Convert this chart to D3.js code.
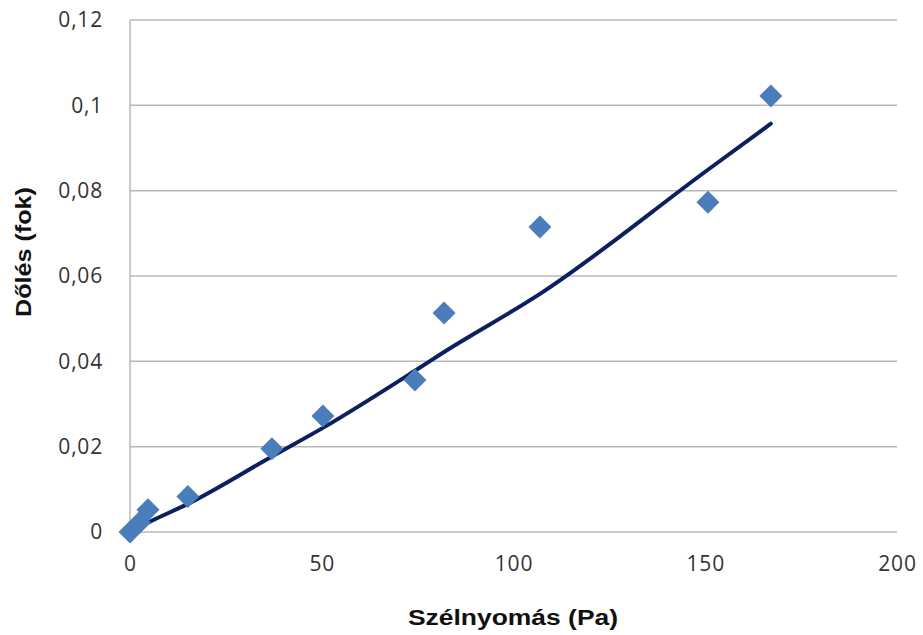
<!DOCTYPE html>
<html>
<head>
<meta charset="utf-8">
<script src="https://cdn.jsdelivr.net/npm/d3@7"></script>
<style>
  body { margin: 0; background: #fff; }
</style>
</head>
<body>
<div id="chart"></div>
<script>
// measured points (Pa, fok)
var pressure = [0, 2.5, 4.7, 15.1, 37, 50.3, 74.3, 81.9, 106.9, 150.7, 167.1];
var tilt     = [0, 0.0022, 0.0052, 0.0083, 0.0195, 0.0272, 0.0356, 0.0513, 0.0715, 0.0773, 0.1022];

// trend line
var trendX = [0, 4.7, 15.1, 37, 50.3, 74.3, 81.9, 106.9, 150.7, 167.1];
var trendY = [0, 0.0022, 0.0066, 0.0177, 0.0244, 0.0378, 0.0422, 0.0558, 0.0849, 0.0957];

var xTicks = [0, 50, 100, 150, 200];
var yTicks = [0, 0.02, 0.04, 0.06, 0.08, 0.1, 0.12];

var width = 923;
var height = 635;

var margin = { top: 20, right: 26, bottom: 103, left: 130 };
var innerW = width - margin.left - margin.right;
var innerH = height - margin.top - margin.bottom;

var svg = d3.select("#chart").append("svg")
  .attr("width", width)
  .attr("height", height);

svg.append("rect")
  .attr("width", "100%")
  .attr("height", "100%")
  .attr("fill", "#ffffff");

var g = svg.append("g")
  .attr("transform", "translate(" + margin.left + "," + margin.top + ")");

var x = d3.scaleLinear().domain([0, 200]).range([0, innerW]);
var y = d3.scaleLinear().domain([0, 0.12]).range([innerH, 0]);

var fmt = function (d) { return String(+d.toFixed(2)).replace(".", ","); };

// horizontal gridlines
g.selectAll(".grid")
  .data(yTicks)
  .enter().append("line")
  .attr("x1", 0)
  .attr("x2", innerW)
  .attr("y1", function (d) { return y(d); })
  .attr("y2", function (d) { return y(d); })
  .attr("stroke", "#b8b8b8")
  .attr("stroke-width", 1.5);

// left axis line
g.append("line")
  .attr("x1", 0).attr("x2", 0)
  .attr("y1", 0).attr("y2", innerH)
  .attr("stroke", "#b8b8b8")
  .attr("stroke-width", 1.5);

// y axis
var yAxis = g.append("g")
  .call(d3.axisLeft(y).tickValues(yTicks).tickFormat(fmt).tickSize(0).tickPadding(27));
yAxis.select(".domain").remove();
yAxis.selectAll("text")
  .attr("font-family", "'Open Sans', sans-serif")
  .attr("font-size", "21px")
  .attr("fill", "#333")
  .attr("letter-spacing", "0.8px");

// x axis
var xAxis = g.append("g")
  .attr("transform", "translate(0," + innerH + ")")
  .call(d3.axisBottom(x).tickValues(xTicks).tickFormat(fmt).tickSize(0).tickPadding(24));
xAxis.select(".domain").remove();
xAxis.selectAll("text")
  .attr("font-family", "'Open Sans', sans-serif")
  .attr("font-size", "21px")
  .attr("fill", "#333")
  .attr("letter-spacing", "0.8px");

// trend line
var trend = trendX.map(function (d, i) { return [d, trendY[i]]; });
g.append("path")
  .datum(trend)
  .attr("fill", "none")
  .attr("stroke", "#0c1f5e")
  .attr("stroke-width", 4)
  .attr("stroke-linecap", "round")
  .attr("d", d3.line()
    .x(function (d) { return x(d[0]); })
    .y(function (d) { return y(d[1]); })
    .curve(d3.curveMonotoneX));

// diamonds
var pts = pressure.map(function (d, i) { return [d, tilt[i]]; });
g.selectAll(".pt")
  .data(pts)
  .enter().append("path")
  .attr("transform", function (d) { return "translate(" + x(d[0]) + "," + y(d[1]) + ")"; })
  .attr("d", "M0,-11.5L11.5,0L0,11.5L-11.5,0Z")
  .attr("fill", "#4a7ebb");

// axis titles
svg.append("text")
  .attr("x", 408)
  .attr("y", 625)
  .attr("textLength", 210)
  .attr("lengthAdjust", "spacingAndGlyphs")
  .attr("font-family", "'Liberation Sans', Arial, sans-serif")
  .attr("font-weight", "bold")
  .attr("font-size", "22px")
  .attr("fill", "#111")
  .text("Szélnyomás (Pa)");

svg.append("text")
  .attr("transform", "translate(31,317) rotate(-90)")
  .attr("textLength", 130)
  .attr("lengthAdjust", "spacingAndGlyphs")
  .attr("font-family", "'Liberation Sans', Arial, sans-serif")
  .attr("font-weight", "bold")
  .attr("font-size", "22px")
  .attr("fill", "#111")
  .text("Dőlés (fok)");
</script>
</body>
</html>
